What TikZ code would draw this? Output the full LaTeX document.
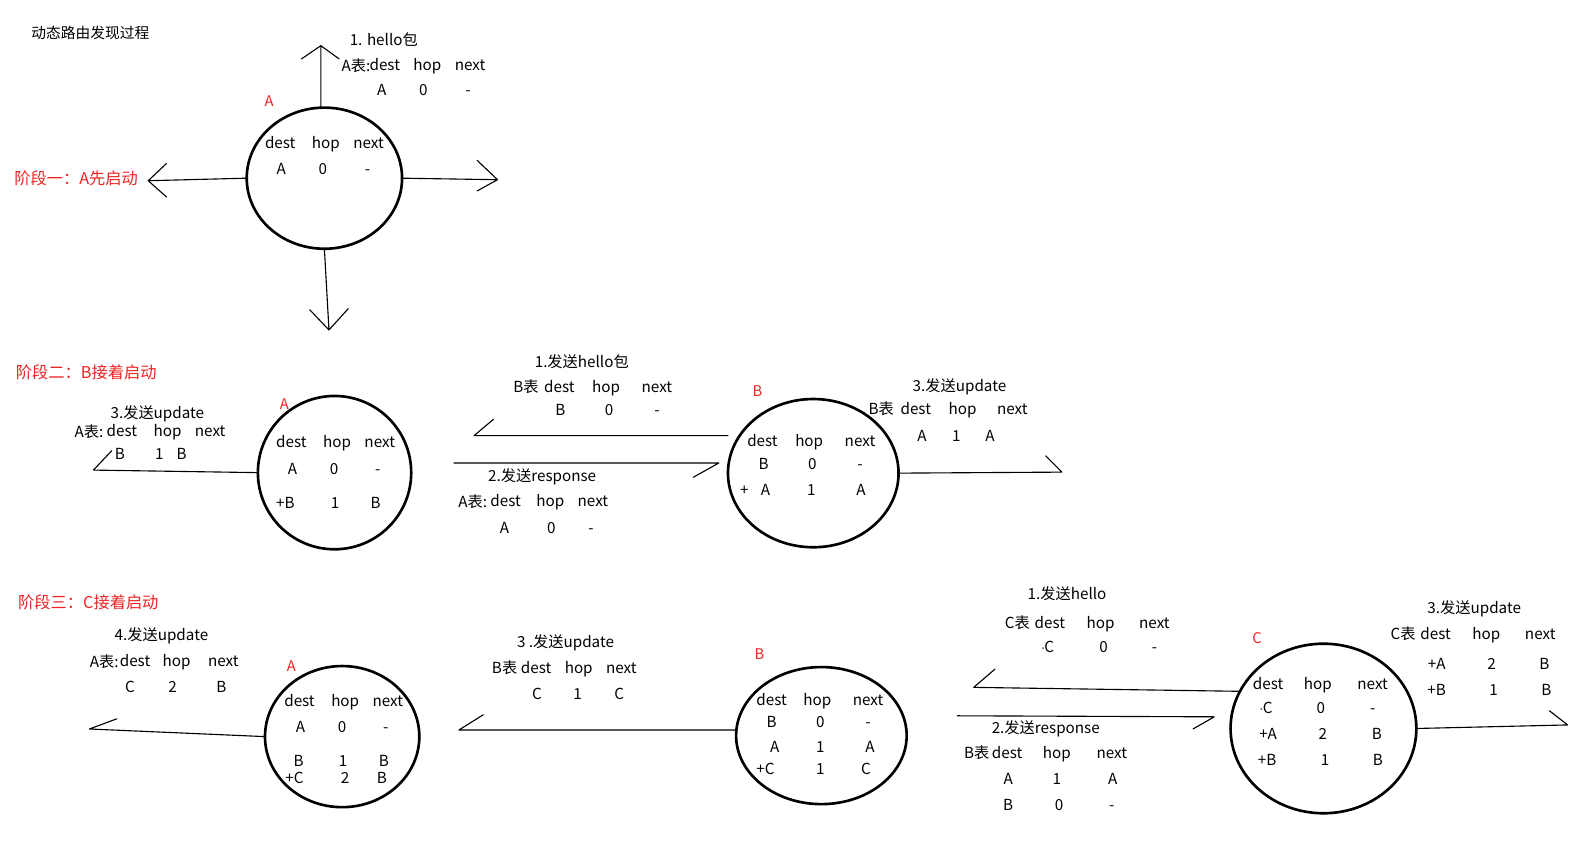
\documentclass[tikz,border=0pt]{standalone}
\usepackage{fontspec}
\setmainfont{Noto Sans CJK SC}
\newfontfamily\dotfont{DejaVu Sans}
\usetikzlibrary{shapes.geometric}
\definecolor{lblred}{RGB}{238,36,36}
% one row of a routing table: name, y, list of x/text
\newcommand\tabrow[3]{\foreach \cx/\ct [count=\ci] in {#3}{\node[tx] (#1-\ci) at (\cx,#2) {\ct};}}
\newcommand\dotC{{\dotfont\fontsize{11}{12}\selectfont ·}\kern-0.5pt C}
\begin{document}
\begin{tikzpicture}[x=1pt,y=-1pt,
  tx/.style={inner sep=0pt, yshift=-2pt, font=\fontsize{15}{18}\selectfont, text height=11pt, text depth=3pt},
  ttl/.style={tx, font=\fontsize{14.5}{17}\selectfont},
  stage/.style={tx, text=lblred, font=\fontsize{16}{19}\selectfont},
  lbl/.style={tx, text=lblred, font=\fontsize{14.5}{17}\selectfont},
  router/.style={draw, ellipse, line width=2.6pt, inner sep=0pt, outer sep=0pt},
  wire/.style={line width=1.1pt, line cap=round}]
\useasboundingbox[fill=white] (0,0) rectangle (1568,832);

% ---------------- stage 1 ----------------
\node[ttl] (title) at (89,32) {动态路由发现过程};
\node[stage] (s1) at (75,176) {阶段一：A先启动};
\node[router, minimum width=153pt, minimum height=139pt] (rA1) at (319.5,175.5) {};
\node[lbl] (nA1) at (265,99) {A};
\coordinate (up1) at (316,45);
\coordinate (left1) at (146,178);
\coordinate (right1) at (490,177);
\coordinate (down1) at (324,325);
\draw[wire] (up1 |- rA1.north) -- (up1) (up1) -- ++(-19,13) (up1) -- ++(18,13);
\draw[wire] (rA1.west) -- (left1) (left1) -- ++(18,-17) (left1) -- ++(18,16);
\draw[wire] (rA1.east) -- (right1) (right1) -- ++(-20,-19) (right1) -- ++(-20,11);
\draw[wire] (rA1.south) -- (down1) (down1) -- ++(-19,-20) (down1) -- ++(19,-21);
\node[tx] (h1) at (378,39) {1. hello包};
\node[tx, anchor=east] (t1) at (365,64) {A表:};
\tabrow{p1h}{63}{379/dest,421/hop,463/next}
\tabrow{p1r}{88}{376/A,417/0,461/-}
\tabrow{a1h}{140}{276/dest,321/hop,363/next}
\tabrow{a1r}{166}{277/A,318/0,362/-}

% ---------------- stage 2 ----------------
\node[stage] (s2) at (85,367) {阶段二：B接着启动};
\node[router, minimum width=151pt, minimum height=151pt] (rA2) at (329.5,465.5) {};
\node[lbl] (nA2) at (280,397) {A};
\tabrow{a2h}{435}{287/dest,332/hop,374/next}
\tabrow{a2r}{461}{288/A,329/0,372/-}
\tabrow{a2s}{495}{281/+B,330/1,370/B}

\node[tx] (u2) at (155,406) {3.发送update};
\node[tx, anchor=east] (t2) at (102,425) {A表:};
\tabrow{q2h}{424}{120/dest,165/hop,207/next}
\tabrow{q2r}{447}{118/B,157/1,179/B}
\coordinate (tipA2) at (92,463);
\draw[wire] (rA2.west) -- (tipA2) (tipA2) -- ++(18,-19);

\node[router, minimum width=168pt, minimum height=146pt] (rB2) at (801,466) {};
\node[lbl] (nB2) at (746,385) {B};
\tabrow{b2h}{434}{751/dest,797/hop,847/next}
\tabrow{b2r}{456}{752/B,800/0,847/-}
\tabrow{b2s}{482}{733/+,754/A,799/1,848/A}

\node[tx] (h2) at (573,356) {1.发送hello包};
\tabrow{k2h}{381}{518/B表,551/dest,597/hop,647/next}
\tabrow{k2r}{403}{552/B,600/0,647/-}
\coordinate (tipH2) at (467,429);
\draw[wire] (tipH2 -| rB2.west) -- (tipH2) (tipH2) -- ++(19,-16);

\coordinate (tailR2) at (447,456);
\coordinate (tipR2) at (708,456);
\draw[wire] (tailR2) -- (tipR2) (tipR2) -- ++(-25,14);
\node[tx] (r2) at (534,468) {2.发送response};
\node[tx, anchor=east] (t3) at (480,494) {A表:};
\tabrow{m2h}{493}{498/dest,542/hop,584/next}
\tabrow{m2r}{519}{497/A,543/0,582/-}

\node[tx] (u3) at (945,380) {3.发送update};
\tabrow{v2h}{402}{868/B表,902/dest,948/hop,997/next}
\tabrow{v2r}{429}{908/A,942/1,975/A}
\coordinate (tipB2) at (1046,465);
\draw[wire] (rB2.east) -- (tipB2) (tipB2) -- ++(-16,-16);

% ---------------- stage 3 ----------------
\node[stage] (s3) at (87,593) {阶段三：C接着启动};
\node[router, minimum width=152pt, minimum height=139pt] (rA3) at (337,725.5) {};
\node[lbl] (nA3) at (287,655) {A};
\tabrow{a3h}{690}{295/dest,340/hop,382/next}
\tabrow{a3r}{715}{296/A,337/0,380/-}
\tabrow{a3s}{749}{294/B,338/1,378/B}
\tabrow{a3t}{766}{290/+C,340/2,376/B}

\node[tx] (u4) at (159,625) {4.发送update};
\node[tx, anchor=east] (t4) at (117,651) {A表:};
\tabrow{w3h}{650}{133/dest,174/hop,220/next}
\tabrow{w3r}{676}{128/C,170/2,218/B}
\coordinate (tipA3) at (88,718);
\draw[wire] (rA3.west) -- (tipA3) (tipA3) -- ++(27,-10);

\node[router, minimum width=168pt, minimum height=135pt] (rB3) at (809,724.5) {};
\node[lbl] (nB3) at (748,644) {B};
\tabrow{b3h}{689}{760/dest,805/hop,855/next}
\tabrow{b3r}{711}{760/B,808/0,855/-}
\tabrow{b3s}{735}{763/A,808/1,857/A}
\tabrow{b3t}{757}{754/+C,808/1,853/C}

\node[tx] (u5) at (557,632) {3 .发送update};
\tabrow{x3h}{657}{497/B表,528/dest,570/hop,612/next}
\tabrow{x3r}{683}{529/C,569/1,610/C}
\coordinate (tipB3) at (452,719);
\draw[wire] (tipB3 -| rB3.west) -- (tipB3) (tipB3) -- ++(24,-15);

\node[router, minimum width=183pt, minimum height=167pt] (rC) at (1303.5,717.5) {};
\node[lbl] (nC) at (1238,628) {C};
\tabrow{c3h}{673}{1249/dest,1298/hop,1352/next}
\tabrow{c3r}{697}{1247/\dotC,1301/0,1352/-}
\tabrow{c3s}{722}{1249/+A,1303/2,1356/B}
\tabrow{c3t}{748}{1248/+B,1305/1,1357/B}

\node[tx] (h3) at (1051,584) {1.发送hello};
\tabrow{y3h}{613}{1002/C表,1034/dest,1084/hop,1137/next}
\tabrow{y3r}{637}{1032/\dotC,1087/0,1137/-}
\coordinate (tipH3) at (959,677);
\draw[wire] (rC.156) -- (tipH3) (tipH3) -- ++(21,-18);

\coordinate (tailR3) at (943,705);
\coordinate (tipR3) at (1196,706);
\draw[wire] (tailR3) -- (tipR3) (tipR3) -- ++(-21,12);
\node[tx] (r3) at (1030,716) {2.发送response};
\tabrow{z3h}{741}{962/B表,992/dest,1041/hop,1095/next}
\tabrow{z3r}{767}{993/A,1041/1,1096/A}
\tabrow{z3s}{792}{993/B,1043/0,1095/-}

\node[tx] (u6) at (1452,598) {3.发送update};
\tabrow{e3h}{624}{1382/C表,1414/dest,1464/hop,1517/next}
\tabrow{e3r}{653}{1415/+A,1469/2,1521/B}
\tabrow{e3s}{679}{1415/+B,1471/1,1523/B}
\coordinate (tipC3) at (1544,714);
\draw[wire] (rC.east) -- (tipC3) (tipC3) -- ++(-18,-14);
\end{tikzpicture}
\end{document}
